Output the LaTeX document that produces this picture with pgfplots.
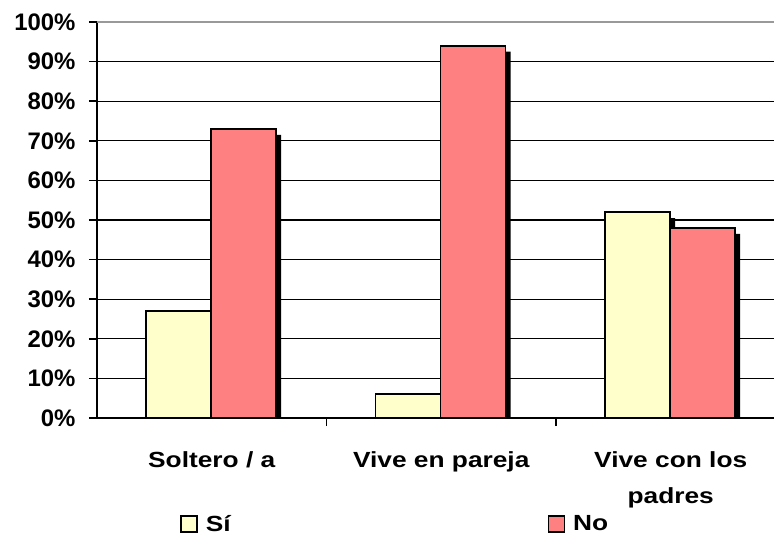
\documentclass[border=0pt]{standalone}
\usepackage{pgfplots}
\usepackage{pgfplotstable}
\pgfplotsset{compat=1.18}
\usepackage{fontspec}
\setmainfont{Liberation Sans}
\newfontfamily\widefont{Liberation Sans}[FakeStretch=1.2]
\definecolor{si}{HTML}{FFFFCC}
\definecolor{no}{HTML}{FF8080}
\pgfplotstableread{
x si no
0 27 73
1 6 94
2 52 48
}\data
\begin{document}
\begin{tikzpicture}
\begin{axis}[
 at={(0,0)}, anchor=south west,
 scale only axis, width=677bp, height=396bp,
 xmin=-0.5, xmax=2.45, ymin=0, ymax=100,
 ybar, bar width=65bp,
 axis x line*=bottom, axis y line*=left,
 axis line style={line width=1.6bp, black},
 ytick={0,10,...,90},
 extra y ticks={100},
 extra y tick style={grid style={line width=1.3bp, gray!80}},
 yticklabel={\pgfmathprintnumber{\tick}\%},
 /pgf/number format/assume math mode=true,
 ymajorgrids, grid style={line width=1.3bp, black},
 tick align=outside, major tick length=8bp,
 tick style={line width=1.6bp, black},
 yticklabel style={font=\fontsize{24}{29}\selectfont\bfseries, xshift=-10bp},
 xtick={0.5,1.5}, xticklabels={},
 extra x ticks={0,1,2},
 extra x tick labels={Soltero / a, Vive en pareja, {Vive con los\\[5bp]padres}},
 extra x tick style={major tick length=0pt, tick label style={align=center, yshift=-30bp,
   font=\widefont\fontsize{22}{31}\selectfont\bfseries}},
 legend columns=2,
 legend style={at={(rel axis cs:0.1226,-0.2677)}, anchor=west, draw=none, fill=none, inner sep=0pt,
   font=\widefont\fontsize{22}{28}\selectfont\bfseries,
   /tikz/every odd column/.append style={column sep=6bp},
   /tikz/every even column/.append style={column sep=315bp}},
]
\addplot[bar shift=-28bp, fill=black, draw=none, forget plot] table[x=x, y expr=\thisrow{si}-1.5] {\data};
\addplot[bar shift=37bp, fill=black, draw=none, forget plot] table[x=x, y expr=\thisrow{no}-1.5] {\data};
\addplot[bar shift=-33bp, fill=si, draw=black, line width=1.5bp,
  legend image code/.code={\draw[fill=si, draw=black, line width=1.6bp] (0bp,-8bp) rectangle (16bp,8bp);}] table[x=x, y=si] {\data};
\addlegendentry{Sí}
\addplot[bar shift=32bp, fill=no, draw=black, line width=1.5bp,
  legend image code/.code={\draw[fill=no, draw=black, line width=1.6bp] (0bp,-8bp) rectangle (16bp,8bp);}] table[x=x, y=no] {\data};
\addlegendentry{No}
\end{axis}
\pgfresetboundingbox
\path (-97bp,-129bp) rectangle (677bp,418bp);
\end{tikzpicture}
\end{document}
